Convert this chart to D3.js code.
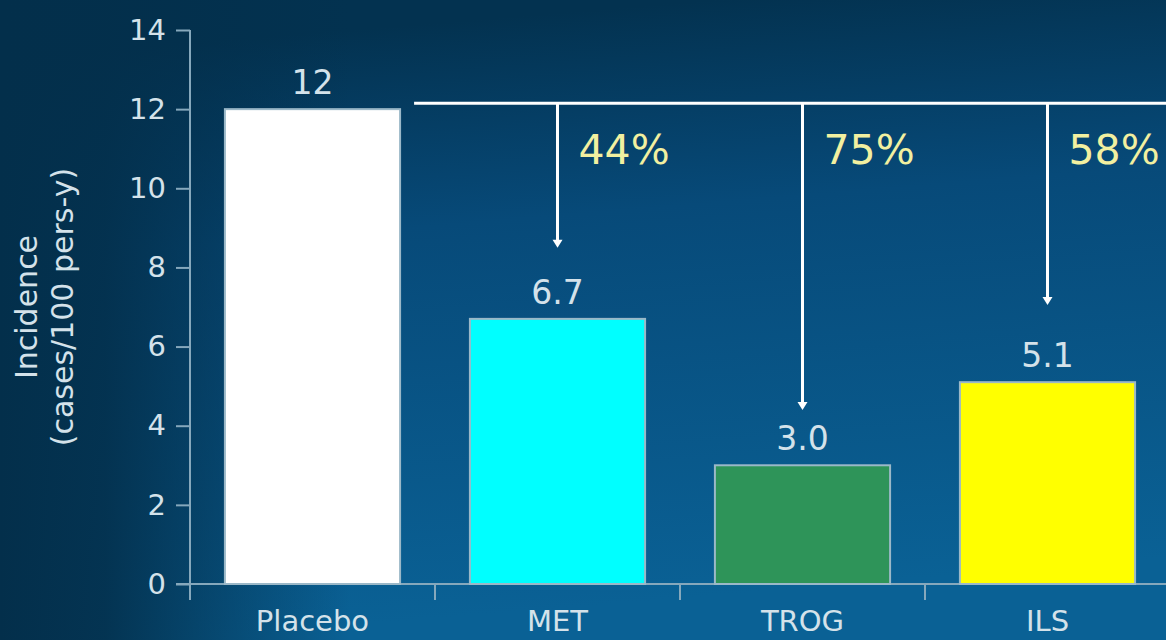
<!DOCTYPE html>
<html>
<head>
<meta charset="utf-8">
<script src="https://cdn.jsdelivr.net/npm/d3@7"></script>
<style>
  body { margin: 0; background: #03304d; }
  svg { display: block; font-family: Verdana, 'DejaVu Sans', sans-serif; }
</style>
</head>
<body>
<div id="chart"></div>
<script>
const WIDTH = 1166
const HEIGHT = 640

const CATEGORIES = ['Placebo', 'MET', 'TROG', 'ILS']
const VALUES = [12, 6.7, 3.0, 5.1]
const VALUE_LABELS = ['12', '6.7', '3.0', '5.1']
const BAR_COLORS = ['#ffffff', '#00ffff', '#2e9459', '#ffff00']
const Y_TICKS = [0, 2, 4, 6, 8, 10, 12, 14]

// reduction arrows (from placebo level down to each treatment)
const ARROW_CATS = ['MET', 'TROG', 'ILS']
const ARROW_ENDS = [8.5, 4.4, 7.05]
const REDUCTIONS = ['44%', '75%', '58%']
const BRACKET_LEVEL = 12.15

const M = { top: 30, right: -4, bottom: 56, left: 190 }

let svg = d3.select('#chart')
  .append('svg')
    .attr('width', WIDTH)
    .attr('height', HEIGHT)

let defs = svg.append('defs')
let vgrad = defs.append('linearGradient')
    .attr('id', 'bg')
    .attr('x1', 0).attr('y1', 0).attr('x2', 0.15).attr('y2', 1)
vgrad.append('stop').attr('offset', '0%').attr('stop-color', '#033250')
vgrad.append('stop').attr('offset', '9%').attr('stop-color', '#033250')
vgrad.append('stop').attr('offset', '40%').attr('stop-color', '#074a79')
vgrad.append('stop').attr('offset', '100%').attr('stop-color', '#0a6195')

let hgrad = defs.append('linearGradient')
    .attr('id', 'shade')
    .attr('x1', 0).attr('y1', 0).attr('x2', 1).attr('y2', 0)
hgrad.append('stop').attr('offset', '0%').attr('stop-color', '#032f4b').attr('stop-opacity', 1)
hgrad.append('stop').attr('offset', '9%').attr('stop-color', '#032f4b').attr('stop-opacity', 0.9)
hgrad.append('stop').attr('offset', '30%').attr('stop-color', '#032f4b').attr('stop-opacity', 0)

svg.append('rect')
  .attr('width', WIDTH)
  .attr('height', HEIGHT)
  .attr('fill', 'url(#bg)')
svg.append('rect')
  .attr('width', WIDTH)
  .attr('height', HEIGHT)
  .attr('fill', 'url(#shade)')

let x = d3.scaleBand()
  .domain(CATEGORIES)
  .range([M.left, WIDTH - M.right])
  .paddingInner(0.285)
  .paddingOuter(0.1425)

let y = d3.scaleLinear()
  .domain([0, 14])
  .range([HEIGHT - M.bottom, M.top])

const AXIS_COLOR = '#86a8bc'
const TEXT_COLOR = '#d4e2ea'

// y axis
let yAxis = svg.append('g')
  .attr('transform', 'translate(' + M.left + ',0)')
  .call(d3.axisLeft(y).tickValues(Y_TICKS).tickSize(14).tickPadding(10).tickSizeOuter(0))
yAxis.select('.domain').remove()
yAxis.append('line')
  .attr('x1', 0).attr('x2', 0)
  .attr('y1', y(14)).attr('y2', y(0) + 16)
  .attr('stroke', AXIS_COLOR).attr('stroke-width', 2)
yAxis.selectAll('.tick line').attr('stroke', AXIS_COLOR).attr('stroke-width', 2)
yAxis.selectAll('.tick text')
  .attr('fill', TEXT_COLOR)
  .attr('font-size', 29)
  .attr('font-family', 'Verdana, DejaVu Sans, sans-serif')

// x axis
let xAxis = svg.append('g')
  .attr('transform', 'translate(0,' + y(0) + ')')
xAxis.append('line')
  .attr('x1', M.left - 14).attr('x2', WIDTH)
  .attr('stroke', AXIS_COLOR).attr('stroke-width', 2)
let step = x.step()
xAxis.selectAll('.xtick')
  .data(CATEGORIES)
  .enter().append('line')
    .attr('x1', (d) => x(d) - step * x.paddingInner() / 2 + step)
    .attr('x2', (d) => x(d) - step * x.paddingInner() / 2 + step)
    .attr('y1', 0).attr('y2', 16)
    .attr('stroke', AXIS_COLOR).attr('stroke-width', 2)
xAxis.selectAll('.xlabel')
  .data(CATEGORIES)
  .enter().append('text')
    .attr('x', (d) => x(d) + x.bandwidth() / 2)
    .attr('y', 47)
    .attr('text-anchor', 'middle')
    .attr('fill', TEXT_COLOR)
    .attr('font-size', 29)
    .text((d) => d)

// y title
let title = svg.append('text')
  .attr('transform', 'translate(47,' + 307 + ') rotate(-90)')
  .attr('text-anchor', 'middle')
  .attr('fill', TEXT_COLOR)
  .attr('font-size', 30)
title.append('tspan').attr('x', 0).attr('dy', '-0.35em').text('Incidence')
title.append('tspan').attr('x', 0).attr('dy', '1.2em').text('(cases/100 pers-y)')

// bars
svg.append('g')
  .selectAll('.bar')
  .data(CATEGORIES)
  .enter().append('rect')
    .attr('x', (d) => x(d))
    .attr('width', x.bandwidth())
    .attr('y', (d, i) => y(VALUES[i]))
    .attr('height', (d, i) => y(0) - y(VALUES[i]))
    .attr('fill', (d, i) => BAR_COLORS[i])
    .attr('stroke', '#9bb8c8')
    .attr('stroke-width', 2)

svg.append('g')
  .selectAll('.value')
  .data(CATEGORIES)
  .enter().append('text')
    .attr('x', (d) => x(d) + x.bandwidth() / 2)
    .attr('y', (d, i) => y(VALUES[i]) - 15)
    .attr('text-anchor', 'middle')
    .attr('fill', TEXT_COLOR)
    .attr('font-size', 33)
    .text((d, i) => VALUE_LABELS[i])

// bracket + arrows
let arrows = svg.append('g')
arrows.append('line')
  .attr('x1', x('Placebo') + x.bandwidth() + 14)
  .attr('x2', WIDTH)
  .attr('y1', y(BRACKET_LEVEL)).attr('y2', y(BRACKET_LEVEL))
  .attr('stroke', '#ffffff').attr('stroke-width', 3)

ARROW_CATS.forEach((c, i) => {
  let cx = x(c) + x.bandwidth() / 2
  arrows.append('line')
    .attr('x1', cx).attr('x2', cx)
    .attr('y1', y(BRACKET_LEVEL)).attr('y2', y(ARROW_ENDS[i]) - 6)
    .attr('stroke', '#ffffff').attr('stroke-width', 3)
  arrows.append('path')
    .attr('d', 'M' + (cx - 5) + ' ' + (y(ARROW_ENDS[i]) - 8) + 'H' + (cx + 5) + 'L' + cx + ' ' + y(ARROW_ENDS[i]) + 'Z')
    .attr('fill', '#ffffff')
  arrows.append('text')
    .attr('x', cx + 21)
    .attr('y', 164)
    .attr('fill', '#f2f0a0')
    .attr('font-size', 41)
    .text(REDUCTIONS[i])
})
</script>
</body>
</html>
